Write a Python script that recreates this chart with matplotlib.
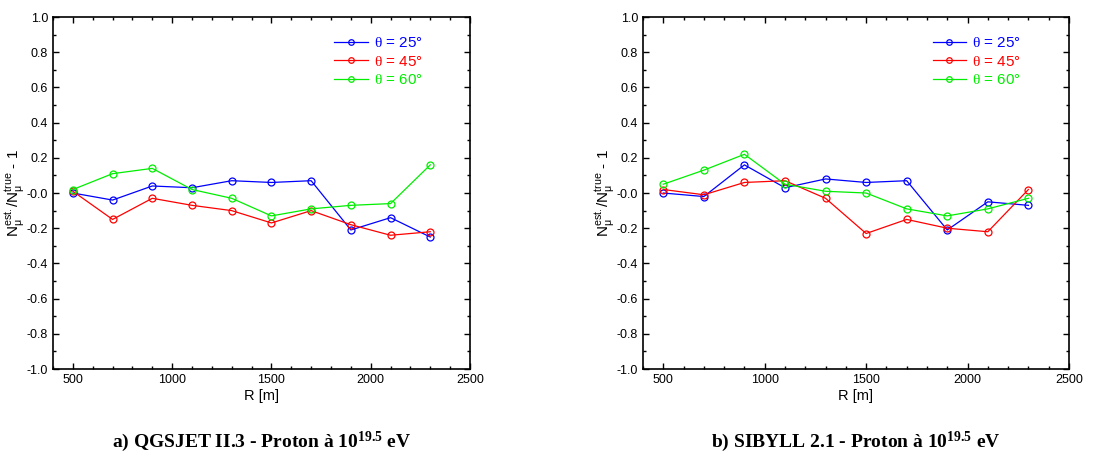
import matplotlib
matplotlib.use("Agg")
import matplotlib.pyplot as plt
from matplotlib.ticker import MultipleLocator

plt.rcParams["font.family"] = ["Liberation Sans", "DejaVu Sans"]
plt.rcParams["mathtext.fontset"] = "custom"
plt.rcParams["mathtext.rm"] = "Liberation Serif"
plt.rcParams["mathtext.it"] = "Liberation Serif"
plt.rcParams["mathtext.bf"] = "Liberation Serif:bold"

# ── Data ─────────────────────────────────────────────────────────────
R = [500, 700, 900, 1100, 1300, 1500, 1700, 1900, 2100, 2300]

qgs_25 = [0.00, -0.04, 0.04, 0.03, 0.07, 0.06, 0.07, -0.21, -0.14, -0.25]
qgs_45 = [0.01, -0.15, -0.03, -0.07, -0.10, -0.17, -0.10, -0.18, -0.24, -0.22]
qgs_60 = [0.02, 0.11, 0.14, 0.02, -0.03, -0.13, -0.09, -0.07, -0.06, 0.16]

sib_25 = [0.00, -0.02, 0.16, 0.03, 0.08, 0.06, 0.07, -0.21, -0.05, -0.07]
sib_45 = [0.02, -0.01, 0.06, 0.07, -0.03, -0.23, -0.15, -0.20, -0.22, 0.02]
sib_60 = [0.05, 0.13, 0.22, 0.05, 0.01, 0.00, -0.09, -0.13, -0.09, -0.03]

labels = [r"$\theta$ = 25°", r"$\theta$ = 45°", r"$\theta$ = 60°"]
colors = ["#0000ff", "#ff0000", "#00ee00"]

captions = [
    r"a) QGSJET II.3 - Proton à 10$^{\mathbf{19.5}}$ eV",
    r"b) SIBYLL 2.1 - Proton à 10$^{\mathbf{19.5}}$ eV",
]

# ── Figure ───────────────────────────────────────────────────────────
fig = plt.figure(figsize=(11.09, 4.53), dpi=100, facecolor="white")
ax_a = fig.add_axes([0.0478, 0.1854, 0.376, 0.777])
ax_b = fig.add_axes([0.5798, 0.1854, 0.3841, 0.777])

panels = [
    (ax_a, [qgs_25, qgs_45, qgs_60], captions[0]),
    (ax_b, [sib_25, sib_45, sib_60], captions[1]),
]

for ax, series, caption in panels:
    for ys, lab, clr in zip(series, labels, colors):
        ax.plot(R, ys, color=clr, linewidth=0.9, marker="o", markersize=5,
                markerfacecolor="none", markeredgecolor=clr,
                markeredgewidth=0.9, label=lab)

    ax.set_xlim(400, 2500)
    ax.set_ylim(-1.0, 1.0)
    ax.xaxis.set_major_locator(MultipleLocator(500))
    ax.xaxis.set_minor_locator(MultipleLocator(100))
    ax.yaxis.set_major_locator(MultipleLocator(0.2))
    ax.yaxis.set_minor_locator(MultipleLocator(0.1))
    ax.yaxis.set_major_formatter(
        plt.FuncFormatter(lambda v, _: "-0.0" if abs(v) < 1e-9 else f"{v:.1f}")
    )
    ax.tick_params(which="both", direction="in", top=True, right=True,
                   labelsize=9, width=1.0)
    ax.tick_params(which="major", length=4)
    ax.tick_params(which="minor", length=2)
    for spine in ax.spines.values():
        spine.set_linewidth(1.2)

    ax.set_xlabel("R [m]", fontsize=10.5, labelpad=2)
    ax.set_ylabel(r"$\mathregular{N_{\mu}^{est.}/N_{\mu}^{true}}$ - 1",
                  fontsize=11, labelpad=0)

    leg = ax.legend(loc="upper right", frameon=False, fontsize=11,
                    handlelength=2.2, handletextpad=0.4, labelspacing=0.3,
                    bbox_to_anchor=(0.92, 0.985), markerscale=0.8)
    for txt, clr in zip(leg.get_texts(), colors):
        txt.set_color(clr)

    pos = ax.get_position()
    fig.text((pos.x0 + pos.x1) / 2, 0.014, caption, ha="center", va="baseline",
             fontsize=14, fontweight="bold", family="Liberation Serif")

fig.savefig("out.png", dpi=100, facecolor="white")
